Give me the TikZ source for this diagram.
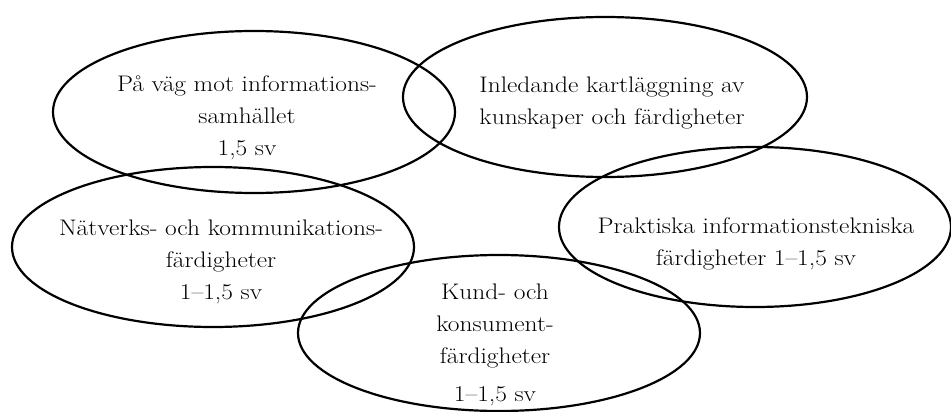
\documentclass[tikz,border=0pt]{standalone}
\usepackage{fontspec}
\setmainfont{Latin Modern Roman}[FakeStretch=1.13]
\usetikzlibrary{shapes.geometric}
\begin{document}
\begin{tikzpicture}[x=1pt,y=-1pt,
  oval/.style={draw, line width=2.2pt, ellipse, inner sep=0pt},
  lbl/.style={align=center, inner sep=0pt, font=\fontsize{22.5}{32}\selectfont}]
\useasboundingbox (0,0) rectangle (951,412);
% ellipses
\node[oval, minimum width=402pt, minimum height=162pt] (e1) at (254,112) {};
\node[oval, minimum width=404pt, minimum height=160pt] (e2) at (605,97) {};
\node[oval, minimum width=402pt, minimum height=160pt] (e3) at (213,247) {};
\node[oval, minimum width=402pt, minimum height=156pt] (e4) at (499,333) {};
\node[oval, minimum width=392pt, minimum height=160pt] (e5) at (755,227) {};
% texts
\node[lbl] (t1) at (247,118) {På väg mot informations-\\samhället\\1,5 sv};
\node[lbl] (t2) at (612,103) {Inledande kartläggning av\\kunskaper och färdigheter};
\node[lbl] (t3) at (221,262) {Nätverks- och kommunikations-\\färdigheter\\1--1,5 sv};
\node[lbl] (t4) at (495,345) {Kund- och\\konsument-\\färdigheter\\[6pt]1--1,5 sv};
\node[lbl] (t5) at (756,244) {Praktiska informationstekniska\\färdigheter 1--1,5 sv};
\end{tikzpicture}
\end{document}
